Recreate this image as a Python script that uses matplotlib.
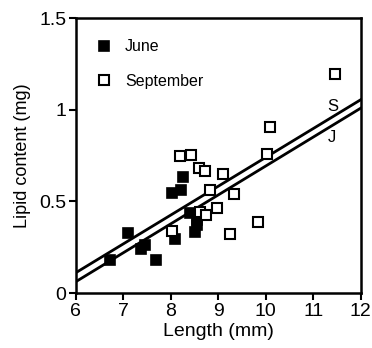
import matplotlib
matplotlib.use("Agg")
import matplotlib.pyplot as plt
import numpy as np

plt.rcParams['font.family'] = ['Liberation Sans', 'DejaVu Sans']

june_len = [6.72, 7.10, 7.38, 7.45, 7.68, 8.03, 8.22, 8.26, 8.09, 8.41, 8.54, 8.50, 8.55]
june_lip = [0.18, 0.33, 0.24, 0.26, 0.18, 0.545, 0.563, 0.632, 0.293, 0.435, 0.40, 0.335, 0.37]

sep_len = [11.45, 10.08, 10.03, 8.19, 8.43, 8.60, 8.72, 9.10, 8.82, 9.33, 8.97, 8.61, 8.75, 8.03, 9.24, 9.84]
sep_lip = [1.197, 0.905, 0.76, 0.745, 0.754, 0.68, 0.668, 0.648, 0.563, 0.539, 0.463, 0.441, 0.426, 0.34, 0.32, 0.386]

line_x = [6, 12]
s_line = [0.111, 1.055]
j_line = [0.062, 1.009]

xticks = [6, 7, 8, 9, 10, 11, 12]
yticks = [0, 0.5, 1, 1.5]
ytick_labels = ['0', '0.5', '1', '1.5']

fig = plt.figure(figsize=(3.72, 3.48), dpi=100)
ax = fig.add_axes([0.204, 0.158, 0.766, 0.790])

ax.plot(line_x, s_line, color='black', lw=2.0, zorder=2)
ax.plot(line_x, j_line, color='black', lw=2.0, zorder=2)

ax.plot(june_len, june_lip, 's', ms=7.5, mfc='black', mec='black', mew=1.2,
        ls='none', label='June', zorder=3)
ax.plot(sep_len, sep_lip, 's', ms=7.5, mfc='white', mec='black', mew=1.5,
        ls='none', label='September', zorder=3)

ax.text(11.41, 1.02, 'S', fontsize=12, ha='center', va='center')
ax.text(11.39, 0.85, 'J', fontsize=12, ha='center', va='center')

ax.set_xlim(6, 12)
ax.set_ylim(0, 1.5)
ax.set_xticks(xticks)
ax.set_xticklabels([str(t) for t in xticks])
ax.set_yticks(yticks)
ax.set_yticklabels(ytick_labels)
ax.tick_params(direction='out', length=5, width=1.5, labelsize=14, pad=2)
for sp in ax.spines.values():
    sp.set_linewidth(1.8)

ax.set_xlabel('Length (mm)', fontsize=14, labelpad=2)
ax.set_ylabel('Lipid content (mg)', fontsize=13, labelpad=6)

ax.legend(loc='upper left', bbox_to_anchor=(0.015, 0.975), frameon=False,
          fontsize=11.5, handletextpad=0.7, labelspacing=1.2, handlelength=1.2)

fig.savefig('out.png', dpi=100)
